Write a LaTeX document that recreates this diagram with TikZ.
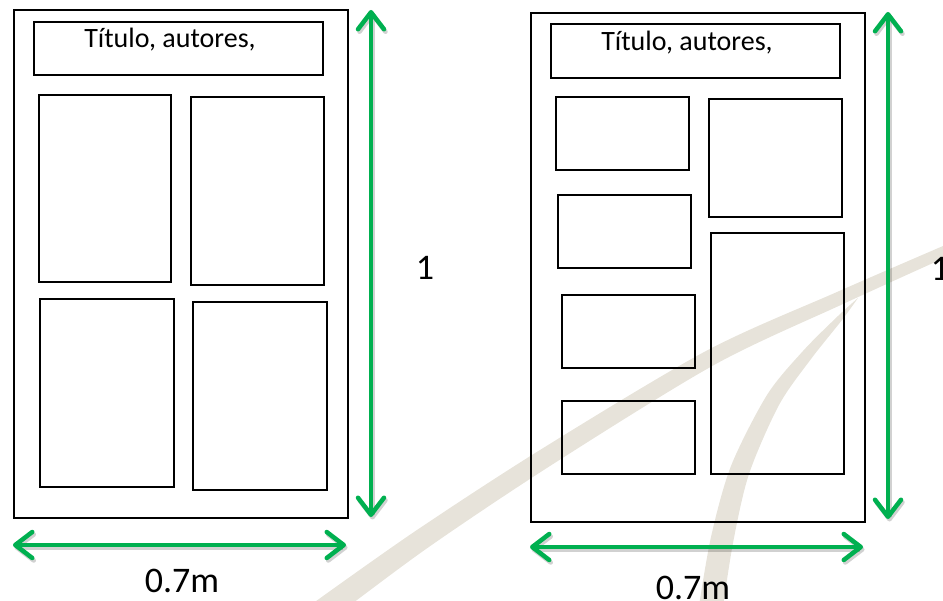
\documentclass[tikz,border=0pt]{standalone}
\usepackage{fontspec}
\setmainfont{Carlito}
\usetikzlibrary{arrows.meta}
\definecolor{dimgreen}{RGB}{0,176,80}
\definecolor{wmark}{RGB}{231,227,218}
\tikzset{
  pbox/.style={draw=black, line width=1.6pt, inner sep=0pt, anchor=north west},
  dimarrow/.style={draw=dimgreen, line width=4.5pt,
    {Straight Barb[length=17pt,width=26pt,round]}-{Straight Barb[length=17pt,width=26pt,round]}},
  dimshadow/.style={draw=black, opacity=0.18, line width=4.5pt,
    transform canvas={shift={(1.5pt,-2.5pt)}},
    {Straight Barb[length=17pt,width=26pt,round]}-{Straight Barb[length=17pt,width=26pt,round]}},
  ttl/.style={inner sep=0pt, anchor=base, font=\fontsize{28}{32}\selectfont},
  lbl/.style={inner sep=0pt, anchor=base, font=\fontsize{36}{40}\selectfont}
}
\newcommand\pbx[5]{\node[pbox, minimum width=#4pt, minimum height=#5pt] (#1) at (#2,#3) {};}
\begin{document}
\begin{tikzpicture}[x=1pt,y=-1pt]
\useasboundingbox (0,0) rectangle (943,601);
% watermark swooshes
\fill[wmark] plot[smooth] coordinates {(312,604) (414,532) (540,450) (706,351) (837,292) (950,243)}
  -- plot[smooth] coordinates {(953,254) (843,304) (714,365) (550,466) (426,549) (328,622)} -- cycle;
\fill[wmark] plot[smooth] coordinates {(698,612) (711,537) (731,466) (767,395) (803,351) (838,316) (858,298)}
  -- plot[smooth] coordinates {(858,298) (842,320) (811,359) (779,405) (749,474) (733,543) (722,614)} -- cycle;
% left poster
\pbx{outerL}{13}{9}{334}{508}
\pbx{titleL}{33}{21}{289}{53}
\pbx{L1}{38}{94}{132}{187}
\pbx{L2}{190}{96}{133}{188}
\pbx{L3}{39}{298}{134}{188}
\pbx{L4}{192}{301}{134}{188}
\node[ttl] (tL) at (170,48) {Título, autores,};
% right poster
\pbx{outerR}{530}{12}{334}{509}
\pbx{titleR}{550}{23}{289}{54}
\pbx{R1}{555}{96}{133}{73}
\pbx{R2}{557}{194}{133}{73}
\pbx{R3}{561}{294}{133}{73}
\pbx{R4}{561}{400}{133}{73}
\pbx{R5}{708}{98}{133}{118}
\pbx{R6}{710}{232}{133}{241}
\node[ttl] (tR) at (687,51) {Título, autores,};
% dimension arrow end points
\coordinate (vLa) at (371,10);
\coordinate (vLb) at (371,517);
\coordinate (hLa) at (13,545);
\coordinate (hLb) at (346,545);
\coordinate (vRa) at (888,12);
\coordinate (vRb) at (888,519);
\coordinate (hRa) at (530,547);
\coordinate (hRb) at (863,547);
% shadows
\draw[dimshadow] (vLa) -- (vLb);
\draw[dimshadow] (hLa) -- (hLb);
\draw[dimshadow] (vRa) -- (vRb);
\draw[dimshadow] (hRa) -- (hRb);
% arrows
\draw[dimarrow] (vLa) -- (vLb);
\draw[dimarrow] (hLa) -- (hLb);
\draw[dimarrow] (vRa) -- (vRb);
\draw[dimarrow] (hRa) -- (hRb);
% labels
\node[lbl] (oneL) at (425,280) {1};
\node[lbl] (oneR) at (940,281) {1};
\node[lbl] (wL) at (182,592) {0.7m};
\node[lbl] (wR) at (693,599) {0.7m};
\end{tikzpicture}
\end{document}
